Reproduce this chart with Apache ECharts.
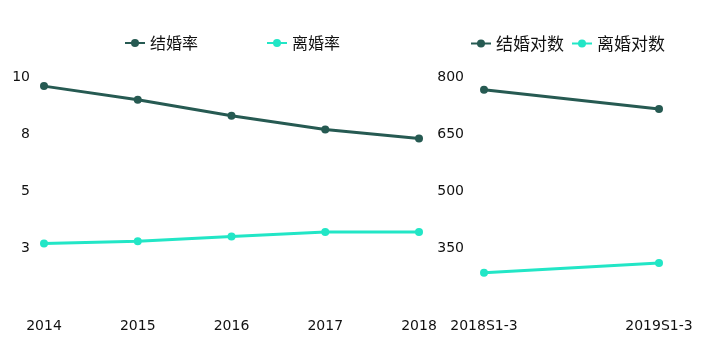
<!DOCTYPE html>
<html><head><meta charset="utf-8">
<script src="https://cdn.jsdelivr.net/npm/echarts@6/dist/echarts.min.js"></script>
<style>html,body{margin:0;padding:0;background:#fff}#c{width:701px;height:357px}</style>
</head><body><div id="c"></div>
<script>
var yearCats = ['2014','2015','2016','2017','2018'];
var marriageRate = [9.6, 9.0, 8.3, 7.7, 7.3];
var divorceRate = [2.7, 2.8, 3.0, 3.2, 3.2];
var periodCats = ['2018S1-3','2019S1-3'];
var marriageCount = [766.6, 715.8];
var divorceCount = [285.1, 310.4];

var dark = '#265a52', cyan = '#22e6c6';
var labelFont = {color:'#111', fontSize:14, fontFamily:'DejaVu Sans'};
var legendFont = {fontSize:16, color:'#111', fontFamily:'Noto Sans CJK SC'};
var legendFont2 = {fontSize:17, color:'#111', fontFamily:'Noto Sans CJK SC'};
var chart = echarts.init(document.getElementById('c'));
chart.setOption({
  animation:false,
  color:[dark, cyan],
  legend:[
    {data:['结婚率','离婚率'], left:119, top:30, itemGap:68, itemWidth:20, itemHeight:10, textStyle:legendFont},
    {data:['结婚对数','离婚对数'], left:465, top:30, itemGap:7, itemWidth:20, itemHeight:10, textStyle:legendFont2}
  ],
  grid:[
    {left:44, right:282, top:77, bottom:52},
    {left:484, right:42, top:77, bottom:52}
  ],
  xAxis:[
    {gridIndex:0, type:'category', data:yearCats, boundaryGap:false,
     axisLine:{show:false}, axisTick:{show:false}, axisLabel:Object.assign({margin:14}, labelFont)},
    {gridIndex:1, type:'category', data:periodCats, boundaryGap:false,
     axisLine:{show:false}, axisTick:{show:false}, axisLabel:Object.assign({margin:14}, labelFont)}
  ],
  yAxis:[
    {gridIndex:0, type:'value', min:0, max:10, interval:2.5, splitLine:{show:false},
     axisLine:{show:false}, axisTick:{show:false},
     axisLabel:Object.assign({margin:14, showMinLabel:false, formatter:function(v){return Math.round(v);}}, labelFont)},
    {gridIndex:1, type:'value', min:200, max:800, interval:150, splitLine:{show:false},
     axisLine:{show:false}, axisTick:{show:false},
     axisLabel:Object.assign({margin:20, showMinLabel:false}, labelFont)}
  ],
  series:[
    {name:'结婚率', type:'line', xAxisIndex:0, yAxisIndex:0, data:marriageRate, symbol:'circle', symbolSize:8, lineStyle:{width:3}},
    {name:'离婚率', type:'line', xAxisIndex:0, yAxisIndex:0, data:divorceRate, symbol:'circle', symbolSize:8, lineStyle:{width:3}},
    {name:'结婚对数', type:'line', xAxisIndex:1, yAxisIndex:1, data:marriageCount, symbol:'circle', symbolSize:8, lineStyle:{width:3}},
    {name:'离婚对数', type:'line', xAxisIndex:1, yAxisIndex:1, data:divorceCount, symbol:'circle', symbolSize:8, lineStyle:{width:3}}
  ]
});
</script></body></html>
